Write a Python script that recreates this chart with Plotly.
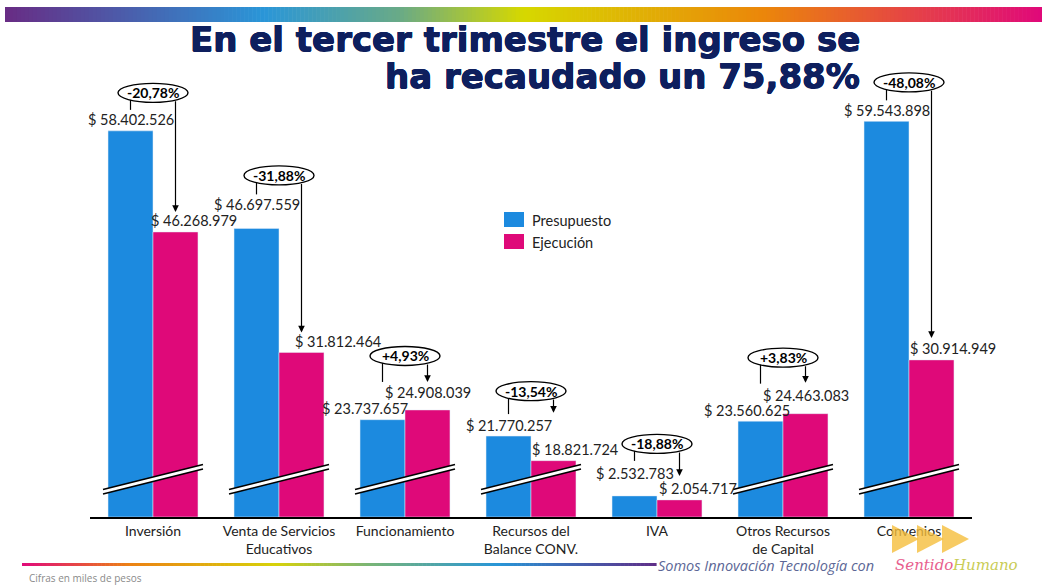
import plotly.graph_objects as go

# datos del informe (cifras en miles de pesos)
categorias = ["Inversión", "Venta de Servicios<br>Educativos", "Funcionamiento",
              "Recursos del<br>Balance CONV.", "IVA", "Otros Recursos<br>de Capital", "Convenios"]
presupuesto = [58402526, 46697559, 23737657, 21770257, 2532783, 23560625, 59543898]
ejecucion = [46268979, 31812464, 24908039, 18821724, 2054717, 24463083, 30914949]
variacion = ["-20,78%", "-31,88%", "+4,93%", "-13,54%", "-18,88%", "+3,83%", "-48,08%"]

titulo = ["En el tercer trimestre el ingreso se", "ha recaudado un 75,88%"]

AZUL = "#1C8ADF"
MAGENTA = "#DF0979"
NAVY = "#0E1F5E"

# eje cortado: a las barras grandes se les quita un tramo
CORTE = 12060000
UMBRAL = 10000000

def alto(v):
    return v - CORTE if v > UMBRAL else v

def pesos(v):
    return "$ " + f"{v:,}".replace(",", ".")

# lienzo
W, H = 1042, 586
L, R, T, B = 90, 70, 30, 69
PW, PH = W - L - R, H - T - B
PX_MILLON = 8.332
Y_TOP = PH / PX_MILLON * 1e6
N = len(categorias)

def dy(px):
    return px / PX_MILLON * 1e6

def dx(px):
    return px / (PW / N)

def fx(px):
    return (px - L) / PW

def fy(py):
    return (H - B - py) / PH

fig = go.Figure()
fig.add_trace(go.Bar(x=categorias, y=[alto(v) for v in presupuesto], name="Presupuesto",
                     marker_color=AZUL, customdata=presupuesto,
                     hovertemplate="%{customdata:,}<extra>Presupuesto</extra>"))
fig.add_trace(go.Bar(x=categorias, y=[alto(v) for v in ejecucion], name="Ejecución",
                     marker_color=MAGENTA, customdata=ejecucion,
                     hovertemplate="%{customdata:,}<extra>Ejecución</extra>"))

shapes = []
annotations = []

# etiquetas de valores (ajustes a mano como en la lamina)
p_dx = [0, 0, -18, 0, 0, -14, 0]
p_dy = [0, 13, 0, 0, 11, 0, 0]
e_dx = [18, 36, 0, 21, 18, 0, 21]
e_dy = [0, 0, 6, 0, 0, 7, 0]
fuente_num = dict(family="Lato", size=14.5, color="#222222")
for i in range(N):
    annotations.append(dict(x=i + dx(-22.5 + p_dx[i]), y=alto(presupuesto[i]), xref="x", yref="y",
                            text=pesos(presupuesto[i]), showarrow=False, yanchor="middle",
                            yshift=11 + p_dy[i], font=fuente_num))
    annotations.append(dict(x=i + dx(22.5 + e_dx[i]), y=alto(ejecucion[i]), xref="x", yref="y",
                            text=pesos(ejecucion[i]), showarrow=False, yanchor="middle",
                            yshift=11 + e_dy[i], font=fuente_num))

# globos con la variacion
elipse_sobre = [38, 53, 54, 45, 52, 56, 39]
tic = [17, 19, 26, 23, 17, 26, 18]
punta = [20, 20, 28, 48, 24, 31, 22]
for i in range(N):
    tope = max(alto(presupuesto[i]), alto(ejecucion[i]))
    yc = tope + dy(elipse_sobre[i])
    shapes.append(dict(type="circle", xref="x", yref="y", x0=i - dx(35), x1=i + dx(35),
                       y0=yc - dy(9.5), y1=yc + dy(9.5), line=dict(color="black", width=1.4),
                       fillcolor="white", layer="above"))
    annotations.append(dict(x=i, y=yc, xref="x", yref="y", text="<b>" + variacion[i] + "</b>",
                            showarrow=False, yanchor="middle",
                            font=dict(family="Lato", size=14, color="black")))
    shapes.append(dict(type="line", xref="x", yref="y", x0=i - dx(22.5), x1=i - dx(22.5),
                       y0=yc - dy(7), y1=yc - dy(tic[i]), line=dict(color="black", width=1.2)))
    cola = yc - dy(7)
    tip = alto(ejecucion[i]) + dy(punta[i])
    largo = (cola - tip) / 1e6 * PX_MILLON
    annotations.append(dict(x=i + dx(22.5), y=tip, xref="x", yref="y", text="", showarrow=True,
                            ax=0, ay=-largo, arrowhead=2, arrowsize=1.1, arrowwidth=1.2,
                            arrowcolor="black"))

# marcas de corte en las barras recortadas
for i in range(N):
    if presupuesto[i] > UMBRAL:
        x0, x1 = i - dx(50), i + dx(50)
        a0, a1 = dy(23), dy(48)
        g = dy(4.5)
        shapes.append(dict(type="path", xref="x", yref="y",
                           path=f"M {x0},{a0} L {x1},{a1} L {x1},{a1 + g} L {x0},{a0 + g} Z",
                           fillcolor="white", line=dict(width=0), layer="above"))
        for off in (0, g):
            shapes.append(dict(type="line", xref="x", yref="y", x0=x0, x1=x1, y0=a0 + off,
                               y1=a1 + off, line=dict(color="black", width=1.6), layer="above"))

# leyenda dibujada
for k, (col, nom) in enumerate([(AZUL, "Presupuesto"), (MAGENTA, "Ejecución")]):
    y0 = 212 + k * 22
    shapes.append(dict(type="rect", xref="paper", yref="paper", x0=fx(504), x1=fx(524),
                       y0=fy(y0), y1=fy(y0 + 15), fillcolor=col, line=dict(width=0)))
    annotations.append(dict(x=fx(530), y=fy(y0 + 8), xref="paper", yref="paper", text=nom,
                            showarrow=False, xanchor="left", yanchor="middle",
                            font=dict(family="Lato", size=14.5, color="#222222")))

# barras de color de la plantilla
def mezcla(paradas, t):
    for (t0, c0), (t1, c1) in zip(paradas, paradas[1:]):
        if t <= t1:
            u = (t - t0) / (t1 - t0)
            return "rgb(%d,%d,%d)" % tuple(round(a + (b - a) * u) for a, b in zip(c0, c1))
    return "rgb(%d,%d,%d)" % paradas[-1][1]

arriba = [(0, (104, 44, 132)), (0.25, (42, 150, 216)), (0.38, (105, 170, 135)),
          (0.5, (214, 216, 0)), (0.73, (235, 135, 10)), (1, (224, 8, 122))]
abajo = [(0, (224, 10, 122)), (0.17, (236, 130, 20)), (0.4, (215, 210, 10)),
         (0.55, (120, 180, 120)), (0.75, (40, 150, 215)), (1, (95, 45, 135))]

def franja(x_ini, x_fin, y_ini, y_fin, paradas, pasos):
    ancho = (x_fin - x_ini) / pasos
    for s in range(pasos):
        shapes.append(dict(type="rect", xref="paper", yref="paper",
                           x0=fx(x_ini + s * ancho), x1=fx(x_ini + (s + 1) * ancho + 0.6),
                           y0=fy(y_fin), y1=fy(y_ini), fillcolor=mezcla(paradas, (s + 0.5) / pasos),
                           line=dict(width=0), layer="below"))

franja(5, 1042, 7, 22, arriba, 260)
franja(22, 656, 563, 566, abajo, 160)

# titulo (letra gruesa y ancha, reforzada con sombra del mismo color)
grosor = ", ".join(f"{a}px {b}px 0 {NAVY}" for a, b in
                   [(0.5, 0), (-0.5, 0), (0, 0.5), (0, -0.5)])
for k, linea in enumerate(titulo):
    annotations.append(dict(x=fx(862), y=fy(39 + k * 37), xref="paper", yref="paper", text=linea,
                            showarrow=False, xanchor="right", yanchor="middle",
                            font=dict(family="DejaVu Sans", size=34, color=NAVY, weight="bold",
                                      shadow=grosor)))

# pie de pagina
annotations.append(dict(x=fx(656), y=fy(565), xref="paper", yref="paper",
                        text="Somos Innovación Tecnología con", showarrow=False, xanchor="left",
                        yanchor="middle",
                        font=dict(family="Open Sans", size=14.5, color="#5C6796", style="italic")))
for k in range(3):
    xa = 892 + k * 25
    shapes.append(dict(type="path", xref="paper", yref="paper",
                       path=f"M {fx(xa)},{fy(525)} L {fx(xa + 27)},{fy(539)} L {fx(xa)},{fy(553)} Z",
                       fillcolor="rgba(245,190,60,0.8)", line=dict(width=0)))
annotations.append(dict(x=fx(893), y=fy(565), xref="paper", yref="paper", text="Sentido",
                        showarrow=False, xanchor="left", yanchor="middle",
                        font=dict(family="DejaVu Serif", size=15, color="#E8608E", style="italic")))
annotations.append(dict(x=fx(950), y=fy(565), xref="paper", yref="paper", text="Humano",
                        showarrow=False, xanchor="left", yanchor="middle",
                        font=dict(family="DejaVu Serif", size=15, color="#C9CC55", style="italic")))
annotations.append(dict(x=fx(27), y=fy(578), xref="paper", yref="paper",
                        text="Cifras en miles de pesos", showarrow=False, xanchor="left",
                        yanchor="middle",
                        font=dict(family="Open Sans", size=10, color="#8A8A8A")))

fig.update_layout(
    width=W, height=H,
    margin=dict(l=L, r=R, t=T, b=B),
    paper_bgcolor="white", plot_bgcolor="white",
    barmode="group", bargap=0.286, bargroupgap=0,
    showlegend=False,
    shapes=shapes, annotations=annotations,
    font=dict(family="Lato", color="#222222"),
)
fig.update_xaxes(range=[-0.5, N - 0.5], showline=True, linecolor="black", linewidth=1.5,
                 ticks="", tickfont=dict(family="Lato", size=14, color="#222222"), showgrid=False)
fig.update_yaxes(range=[0, Y_TOP], visible=False, showgrid=False, zeroline=False)

# sin el margen del body la figura ocupa justo la ventana
fig.write_html("out.html", config={"displayModeBar": False},
               post_script="document.body.style.margin='0px';")
